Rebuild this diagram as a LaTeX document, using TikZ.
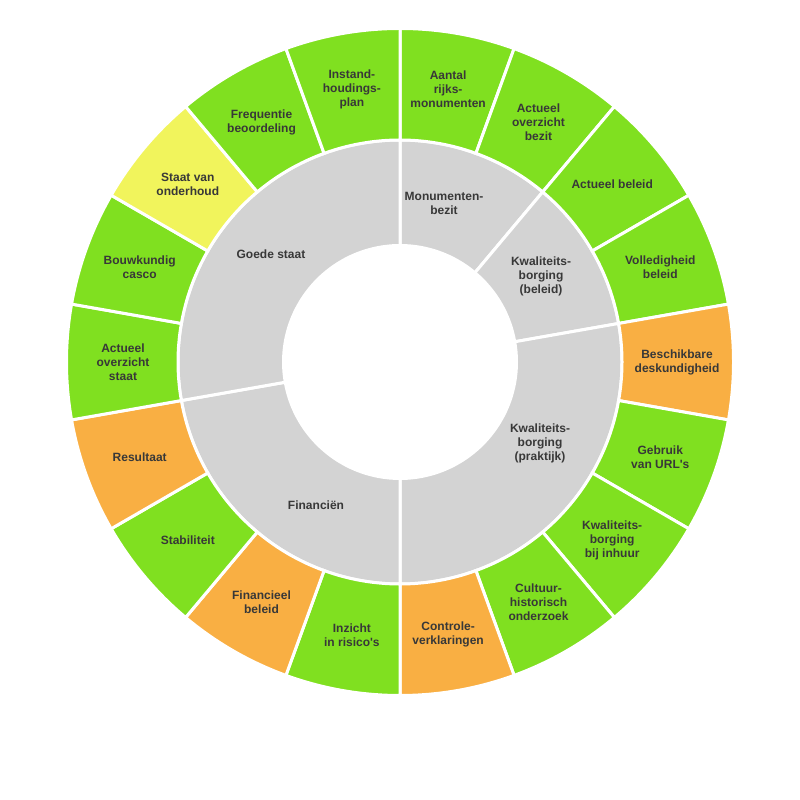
\documentclass[tikz,border=0pt]{standalone}
\usepackage{fontspec}
\setmainfont{Liberation Sans}
\usetikzlibrary{calc}
\definecolor{grn}{HTML}{80E020}
\definecolor{org}{HTML}{F9AF43}
\definecolor{ylw}{HTML}{F1F45C}
\definecolor{gry}{HTML}{D3D3D3}
\definecolor{txt}{HTML}{383838}
\tikzset{
  seg/.style={draw=white, line width=3pt, line join=miter},
  lbl/.style={align=center, text=txt, font=\fontsize{12}{14}\selectfont\bfseries, inner sep=0pt}
}
\newcommand\mysector[5]{% start end rin rout color
  \draw[seg, fill=#5] ($(C)+(#1:#4)$) arc[start angle=#1, end angle=#2, radius=#4]
    -- ($(C)+(#2:#3)$) arc[start angle=#2, end angle=#1, radius=#3] -- cycle;}
\begin{document}
\begin{tikzpicture}
\useasboundingbox (0pt,0pt) rectangle (800pt,800pt);
\fill[white] (0pt,0pt) rectangle (800pt,800pt);
\coordinate (C) at (400pt,438pt);
% inner ring
\mysector{90}{50}{116.5pt}{222pt}{gry}
\mysector{50}{10}{116.5pt}{222pt}{gry}
\mysector{10}{-90}{116.5pt}{222pt}{gry}
\mysector{-90}{-170}{116.5pt}{222pt}{gry}
\mysector{-170}{-270}{116.5pt}{222pt}{gry}
% outer ring
\foreach \k/\col in {0/grn,1/grn,2/grn,3/grn,4/org,5/grn,6/grn,7/grn,8/org,9/grn,10/org,11/grn,12/org,13/grn,14/grn,15/ylw,16/grn,17/grn}{
  \pgfmathsetmacro\as{90-20*\k}
  \pgfmathsetmacro\ae{70-20*\k}
  \mysector{\as}{\ae}{222pt}{333.5pt}{\col}
}
% outer labels
\foreach \k/\nm/\txt in {
  0/o0/{Aantal\\rijks-\\monumenten},
  1/o1/{Actueel\\overzicht\\bezit},
  2/o2/{Actueel beleid},
  3/o3/{Volledigheid\\beleid},
  4/o4/{Beschikbare\\deskundigheid},
  5/o5/{Gebruik\\van URL\textquotesingle s},
  6/o6/{Kwaliteits-\\borging\\bij inhuur},
  7/o7/{Cultuur-\\historisch\\onderzoek},
  8/o8/{Controle-\\verklaringen},
  9/o9/{Inzicht\\in risico\textquotesingle s},
  10/o10/{Financieel\\beleid},
  11/o11/{Stabiliteit},
  12/o12/{Resultaat},
  13/o13/{Actueel\\overzicht\\staat},
  14/o14/{Bouwkundig\\casco},
  15/o15/{Staat van\\onderhoud},
  16/o16/{Frequentie\\beoordeling},
  17/o17/{Instand-\\houdings-\\plan}}{
  \pgfmathsetmacro\am{80-20*\k}
  \node[lbl] (\nm) at ($(C)+(\am:277pt)$) {\txt};
}
% inner labels
\node[lbl] (i1) at (444pt,597pt) {Monumenten-\\bezit};
\node[lbl] (i2) at (541pt,524pt) {Kwaliteits-\\borging\\(beleid)};
\node[lbl] (i3) at (540pt,357pt) {Kwaliteits-\\borging\\(praktijk)};
\node[lbl] (i4) at (316pt,295pt) {Financiën};
\node[lbl] (i5) at (271pt,546pt) {Goede staat};
\end{tikzpicture}
\end{document}
